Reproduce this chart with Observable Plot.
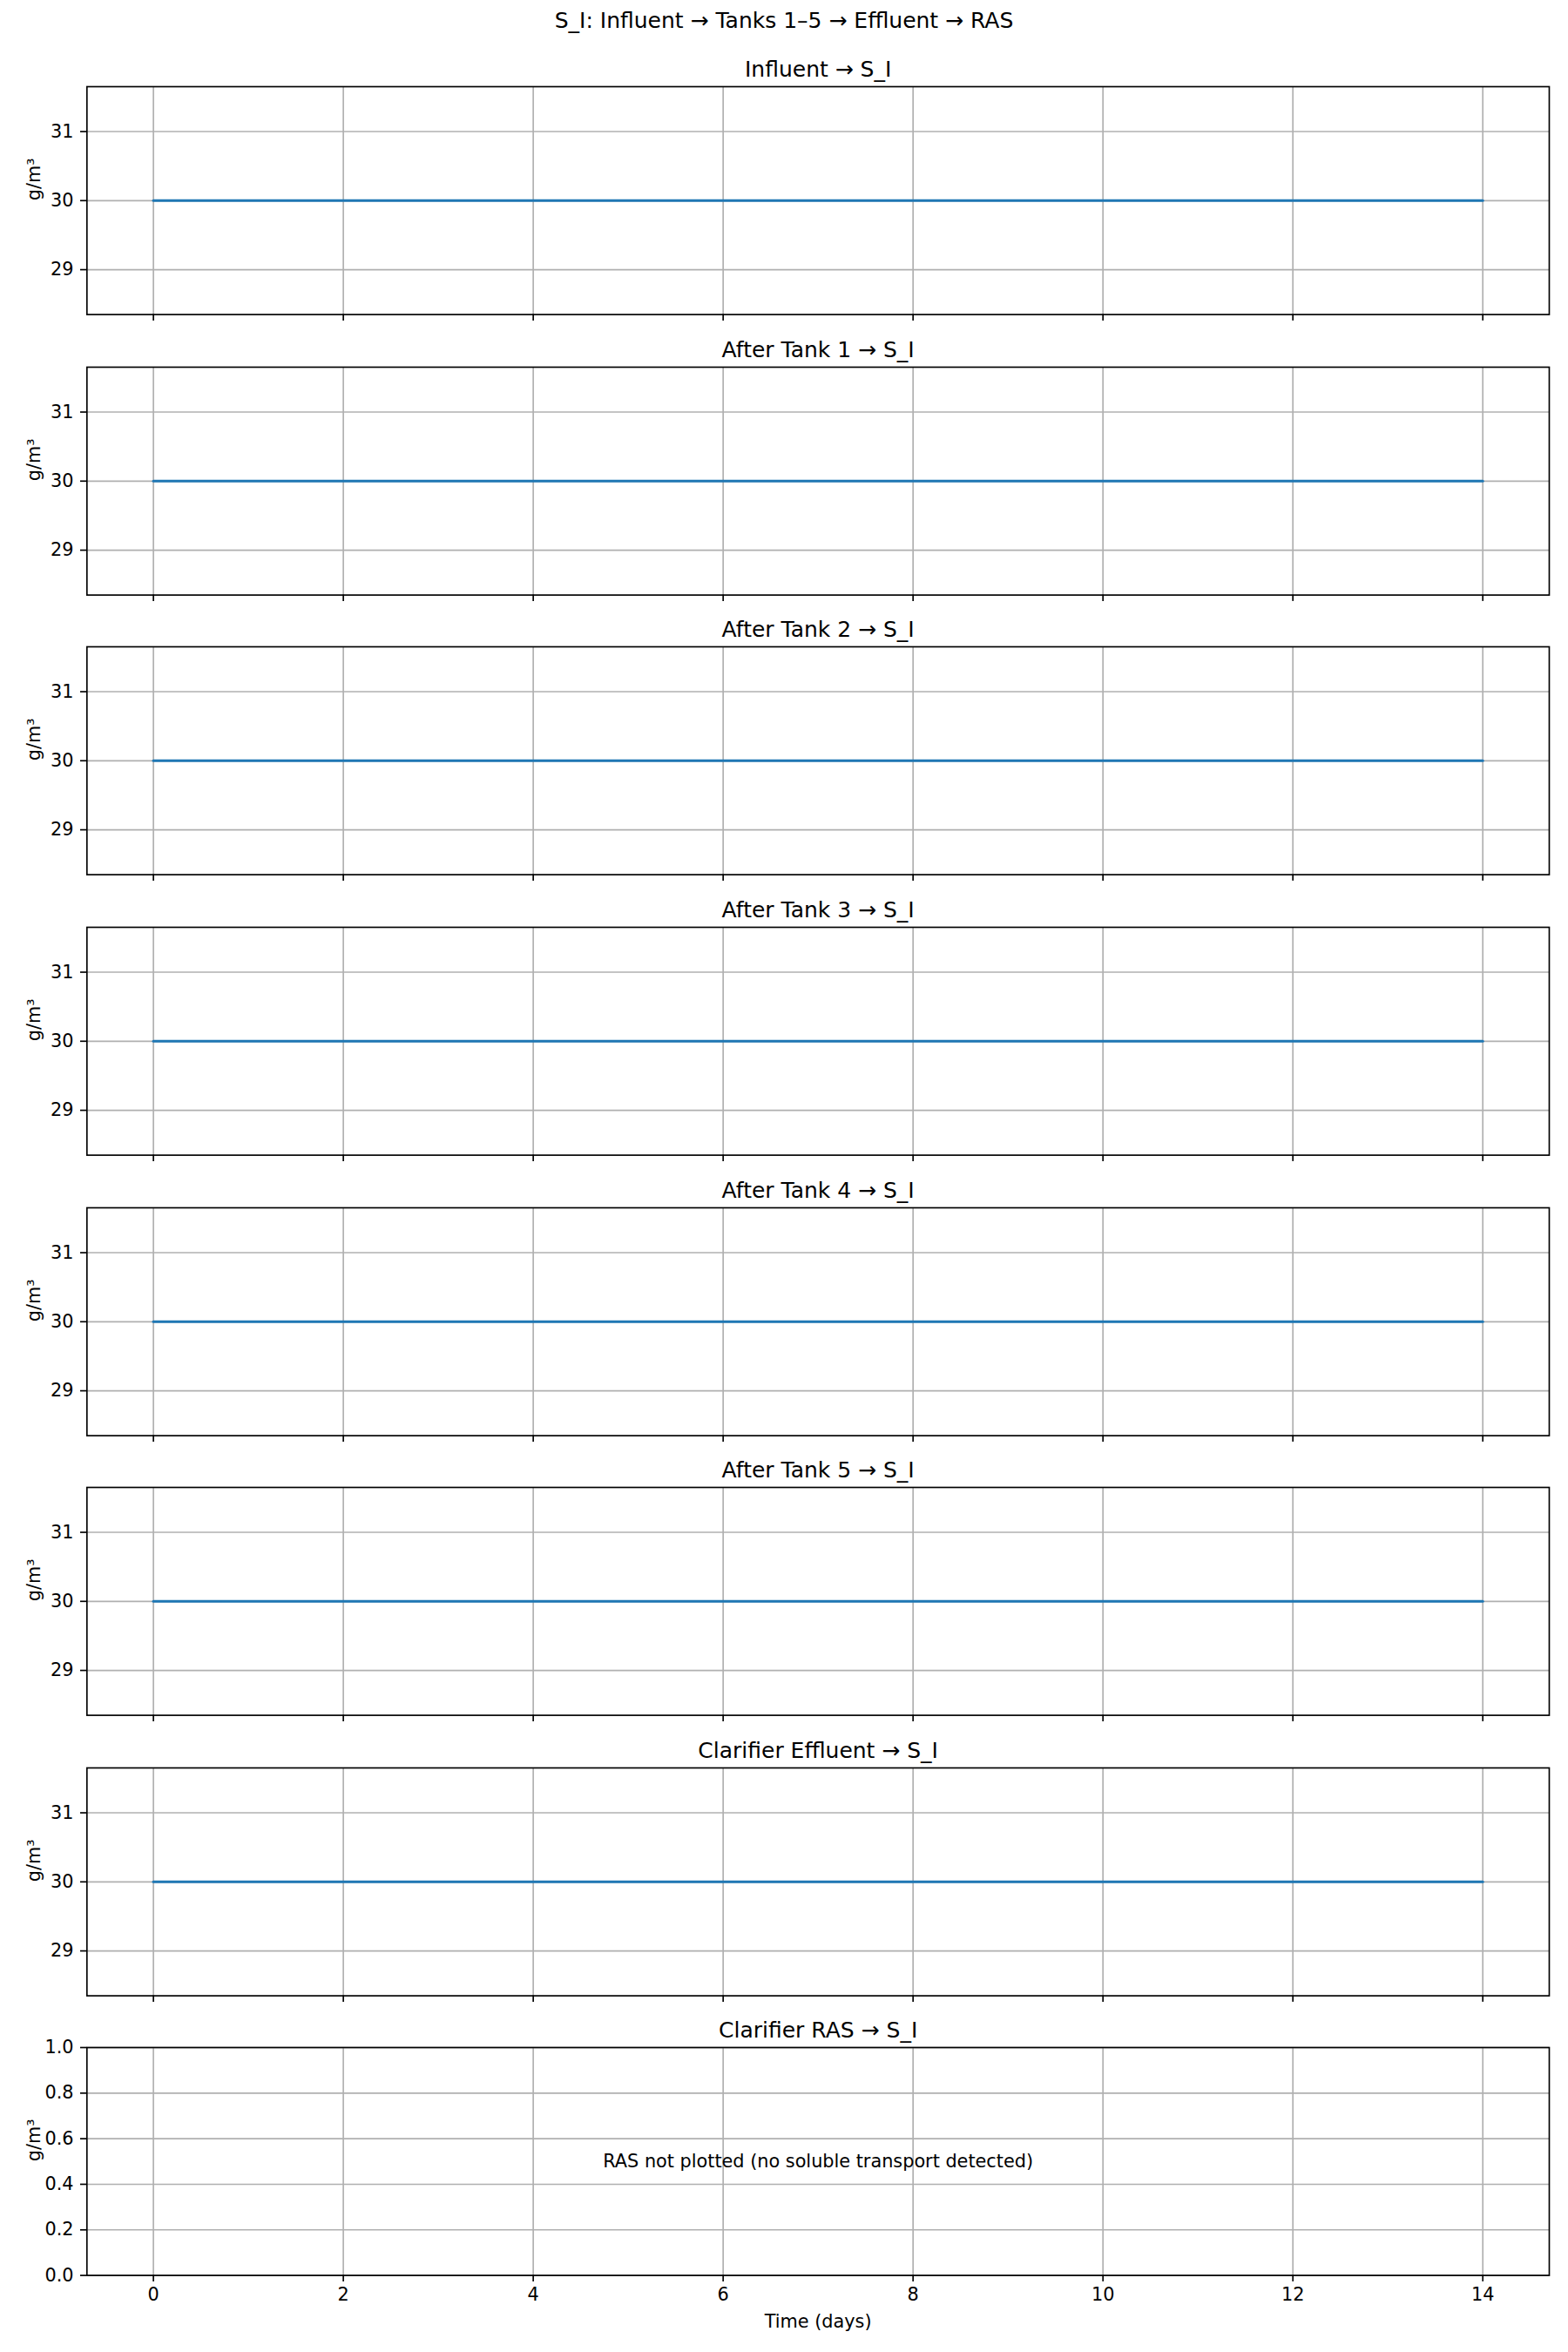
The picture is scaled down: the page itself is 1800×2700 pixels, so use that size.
<!DOCTYPE html>
<html>
<head>
<meta charset="utf-8">
<script src="https://cdn.jsdelivr.net/npm/d3@7"></script>
<script src="https://cdn.jsdelivr.net/npm/@observablehq/plot@0.6"></script>
<style>
  html, body { margin: 0; padding: 0; background: #fff; }
  #chart { width: 1800px; height: 2700px; position: relative; background: #fff; }
  #suptitle { height: 59.3px; width: 1800px; box-sizing: border-box; padding-top: 10.8px;
    font-family: "DejaVu Sans", sans-serif; font-size: 25px; line-height: 25px; text-align: center; color: #000; }
  svg { display: block; overflow: visible; }
</style>
</head>
<body>
<div id="chart"><div id="suptitle">S_I: Influent → Tanks 1–5 → Effluent → RAS</div></div>
<script>
// ---- data ----
const suptitle = "S_I: Influent → Tanks 1–5 → Effluent → RAS";
const panelTitles = [
  "Influent → S_I",
  "After Tank 1 → S_I",
  "After Tank 2 → S_I",
  "After Tank 3 → S_I",
  "After Tank 4 → S_I",
  "After Tank 5 → S_I",
  "Clarifier Effluent → S_I",
  "Clarifier RAS → S_I"
];
const timeDays = [0, 1, 2, 3, 4, 5, 6, 7, 8, 9, 10, 11, 12, 13, 14];
const influentSI = [30, 30, 30, 30, 30, 30, 30, 30, 30, 30, 30, 30, 30, 30, 30];
const tank1SI    = [30, 30, 30, 30, 30, 30, 30, 30, 30, 30, 30, 30, 30, 30, 30];
const tank2SI    = [30, 30, 30, 30, 30, 30, 30, 30, 30, 30, 30, 30, 30, 30, 30];
const tank3SI    = [30, 30, 30, 30, 30, 30, 30, 30, 30, 30, 30, 30, 30, 30, 30];
const tank4SI    = [30, 30, 30, 30, 30, 30, 30, 30, 30, 30, 30, 30, 30, 30, 30];
const tank5SI    = [30, 30, 30, 30, 30, 30, 30, 30, 30, 30, 30, 30, 30, 30, 30];
const effluentSI = [30, 30, 30, 30, 30, 30, 30, 30, 30, 30, 30, 30, 30, 30, 30];
const rasSI = null; // not plotted
const rasMessage = "RAS not plotted (no soluble transport detected)";
const seriesList = [influentSI, tank1SI, tank2SI, tank3SI, tank4SI, tank5SI, effluentSI, rasSI];
const xTicks = [0, 2, 4, 6, 8, 10, 12, 14];
const yTicksSeries = [29, 30, 31];
const yTicksEmpty = [0, 0.2, 0.4, 0.6, 0.8, 1.0];
const yLabel = "g/m³";
const xLabel = "Time (days)";

// ---- layout ----
const FONT = "DejaVu Sans";
const W = 1800, ML = 99.3, MR = 22, MT = 40, AXH = 261.6;
const gridStyle = {stroke: "#b0b0b0", strokeOpacity: 1, strokeWidth: 1.67};
const chart = document.getElementById("chart");

seriesList.forEach((vals, i) => {
  const last = i === seriesList.length - 1;
  const MB = last ? 87.9 : 20;
  const hasData = vals !== null;
  const yDomain = hasData ? [28.35, 31.65] : [0, 1];
  const yTicks = hasData ? yTicksSeries : yTicksEmpty;
  const data = hasData ? timeDays.map((t, k) => ({t, v: vals[k]})) : [];
  const marks = [
    Plot.gridX(xTicks, gridStyle),
    Plot.gridY(yTicks, gridStyle),
    Plot.axisX(xTicks, {tickSize: 7.3, tickPadding: 7.3, stroke: "black", strokeWidth: 1.67,
      tickFormat: last ? d3.format("d") : () => "", label: null, fontSize: 20.8, fill: "black"}),
    Plot.axisY(yTicks, {tickSize: 7.3, tickPadding: 8, stroke: "black", strokeWidth: 1.67,
      tickFormat: hasData ? d3.format("d") : d3.format(".1f"), label: null, fontSize: 20.8, fill: "black"}),
    Plot.frame({stroke: "black", strokeWidth: 1.67}),
    Plot.text([panelTitles[i]], {frameAnchor: "top", dy: -19.3, text: d => d, fontSize: 25, lineAnchor: "middle", fill: "black"}),
    Plot.text([yLabel], {frameAnchor: "left", dx: -60, rotate: -90, text: d => d, fontSize: 20.8, lineAnchor: "middle", fill: "black"})
  ];
  if (hasData) {
    marks.push(Plot.line(data, {x: "t", y: "v", stroke: "#1f77b4", strokeWidth: 3.1}));
  } else {
    marks.push(Plot.text([rasMessage], {frameAnchor: "middle", text: d => d, fontSize: 20.8, lineAnchor: "middle", fill: "black"}));
  }
  if (last) {
    marks.push(Plot.text([xLabel], {frameAnchor: "bottom", dy: 53, text: d => d, fontSize: 20.8, lineAnchor: "middle", fill: "black"}));
  }
  const svg = Plot.plot({
    width: W,
    height: MT + AXH + MB,
    marginLeft: ML, marginRight: MR, marginTop: MT, marginBottom: MB,
    x: {domain: [-0.7, 14.7]},
    y: {domain: yDomain},
    style: {fontFamily: FONT, fontSize: "20.8px", color: "black", background: "white", overflow: "visible"},
    marks
  });
  chart.appendChild(svg);
});
</script>
</body>
</html>
